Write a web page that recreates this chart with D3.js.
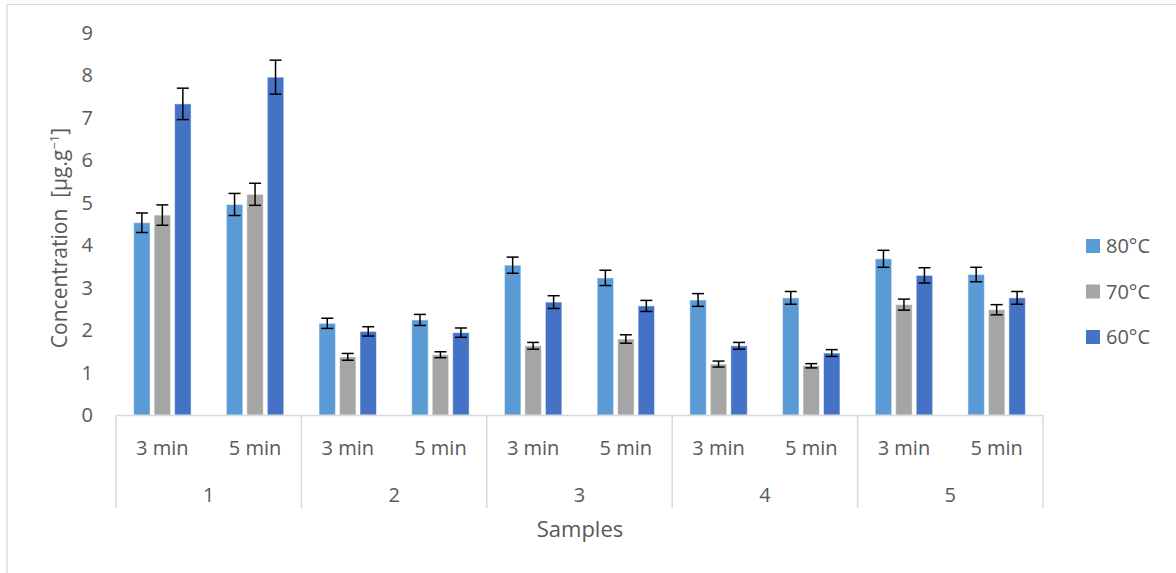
<!DOCTYPE html>
<html>
<head>
<meta charset="utf-8">
<script src="https://cdn.jsdelivr.net/npm/d3@7"></script>
<style>
  body { margin: 0; background: #fff; }
  text { font-family: "Open Sans", sans-serif; fill: #595959; white-space: pre; }
</style>
</head>
<body>
<script>
// values
const samples = ['1', '2', '3', '4', '5'];
const times = ['3 min', '5 min'];
const series = ['80°C', '70°C', '60°C'];
const yTicks = [0, 1, 2, 3, 4, 5, 6, 7, 8, 9];

// one entry per sample/time pair: 1-3, 1-5, 2-3, 2-5, ...
const values80 = [4.53, 4.96, 2.16, 2.24, 3.53, 3.23, 2.71, 2.76, 3.68, 3.31];
const values70 = [4.71, 5.20, 1.37, 1.42, 1.63, 1.79, 1.20, 1.16, 2.60, 2.48];
const values60 = [7.33, 7.96, 1.97, 1.94, 2.66, 2.57, 1.63, 1.46, 3.29, 2.76];
const err80 = [0.23, 0.26, 0.12, 0.13, 0.19, 0.18, 0.15, 0.15, 0.20, 0.17];
const err70 = [0.24, 0.26, 0.08, 0.07, 0.08, 0.10, 0.07, 0.05, 0.13, 0.12];
const err60 = [0.37, 0.40, 0.11, 0.11, 0.15, 0.13, 0.08, 0.08, 0.18, 0.15];

const colours = ['#5b9bd5', '#a5a5a5', '#4472c4'];

const W = 1176, H = 573;
const svg = d3.select('body').append('svg')
  .attr('width', W)
  .attr('height', H);

// chart border (only top and left edges are visible in the picture)
svg.append('rect')
  .attr('x', 7).attr('y', 4.5)
  .attr('width', W + 20).attr('height', H + 20)
  .attr('fill', 'none')
  .attr('stroke', '#d9d9d9')
  .attr('stroke-width', 1.2);

const plot = { left: 116, right: 1043, top: 33, bottom: 415 };

const y = d3.scaleLinear()
  .domain([0, 9])
  .range([plot.bottom, plot.top]);

const x0 = d3.scaleBand()
  .domain(samples)
  .range([plot.left, plot.right]);

const x1 = d3.scaleBand()
  .domain(times)
  .range([0, x0.bandwidth()]);

const x2 = d3.scaleBand()
  .domain(series)
  .range([0, x1.bandwidth()])
  .paddingInner(0.195)
  .paddingOuter(0.86);

const rows = [];
samples.forEach((s, i) => {
  times.forEach((t, j) => {
    const k = i * times.length + j;
    rows.push({ s, t, key: series[0], v: values80[k], e: err80[k] });
    rows.push({ s, t, key: series[1], v: values70[k], e: err70[k] });
    rows.push({ s, t, key: series[2], v: values60[k], e: err60[k] });
  });
});
const colour = d3.scaleOrdinal().domain(series).range(colours);
const barX = d => x0(d.s) + x1(d.t) + x2(d.key);

// y axis labels
svg.append('g')
  .selectAll('text')
  .data(yTicks)
  .enter()
    .append('text')
    .attr('x', 93)
    .attr('y', d => y(d))
    .attr('dy', '0.35em')
    .attr('text-anchor', 'end')
    .attr('font-size', 20)
    .text(d => d);

// bars
svg.append('g')
  .selectAll('rect')
  .data(rows)
  .enter()
    .append('rect')
    .attr('x', barX)
    .attr('y', d => y(d.v))
    .attr('width', x2.bandwidth())
    .attr('height', d => y(0) - y(d.v))
    .attr('fill', d => colour(d.key))
    .attr('stroke', 'rgba(255,255,255,0.55)')
    .attr('stroke-width', 1);

// error bars
const eb = svg.append('g')
  .attr('stroke', '#000')
  .attr('stroke-width', 1.5)
  .selectAll('g')
  .data(rows)
  .enter()
    .append('g')
    .attr('transform', d => `translate(${barX(d) + x2.bandwidth() / 2} 0)`);
eb.append('line')
  .attr('x1', 0).attr('x2', 0)
  .attr('y1', d => y(d.v - d.e))
  .attr('y2', d => y(d.v + d.e));
eb.append('line')
  .attr('x1', -6).attr('x2', 6)
  .attr('y1', d => y(d.v + d.e))
  .attr('y2', d => y(d.v + d.e));
eb.append('line')
  .attr('x1', -6).attr('x2', 6)
  .attr('y1', d => y(d.v - d.e))
  .attr('y2', d => y(d.v - d.e));

// category axis
const ax = svg.append('g');
ax.append('line')
  .attr('x1', plot.left).attr('x2', plot.right)
  .attr('y1', plot.bottom + 0.5).attr('y2', plot.bottom + 0.5)
  .attr('stroke', '#d9d9d9')
  .attr('stroke-width', 1.5);

const edges = samples.map(s => x0(s)).concat([plot.right]);
ax.selectAll('.sep')
  .data(edges)
  .enter()
    .append('line')
    .attr('class', 'sep')
    .attr('x1', d => d).attr('x2', d => d)
    .attr('y1', plot.bottom).attr('y2', 508)
    .attr('stroke', '#d9d9d9')
    .attr('stroke-width', 1.5);

const sub = [];
samples.forEach(s => times.forEach(t => sub.push({ s, t })));
ax.selectAll('.time')
  .data(sub)
  .enter()
    .append('text')
    .attr('class', 'time')
    .attr('x', d => x0(d.s) + x1(d.t) + x1.bandwidth() / 2)
    .attr('y', 455)
    .attr('text-anchor', 'middle')
    .attr('font-size', 20)
    .text(d => d.t);

ax.selectAll('.sample')
  .data(samples)
  .enter()
    .append('text')
    .attr('class', 'sample')
    .attr('x', d => x0(d) + x0.bandwidth() / 2)
    .attr('y', 502)
    .attr('text-anchor', 'middle')
    .attr('font-size', 20)
    .text(d => d);

// axis titles
svg.append('text')
  .attr('x', 580)
  .attr('y', 537)
  .attr('text-anchor', 'middle')
  .attr('font-size', 22)
  .text('Samples');

const yt = svg.append('text')
  .attr('transform', 'translate(67 238) rotate(-90)')
  .attr('text-anchor', 'middle')
  .attr('font-size', 21);
yt.append('tspan').text('Concentration  [μg.g');
yt.append('tspan').attr('font-size', 13).attr('dy', -8).text('−1');
yt.append('tspan').attr('dy', 8).text(']');

// legend
const lg = svg.append('g')
  .selectAll('g')
  .data(series)
  .enter()
    .append('g')
    .attr('transform', (d, i) => `translate(1086 ${246 + i * 45.5})`);
lg.append('rect')
  .attr('x', 0).attr('y', -7)
  .attr('width', 14).attr('height', 14)
  .attr('fill', d => colour(d));
lg.append('text')
  .attr('x', 20)
  .attr('y', 0)
  .attr('dy', '0.35em')
  .attr('font-size', 20)
  .text(d => d);
</script>
</body>
</html>
